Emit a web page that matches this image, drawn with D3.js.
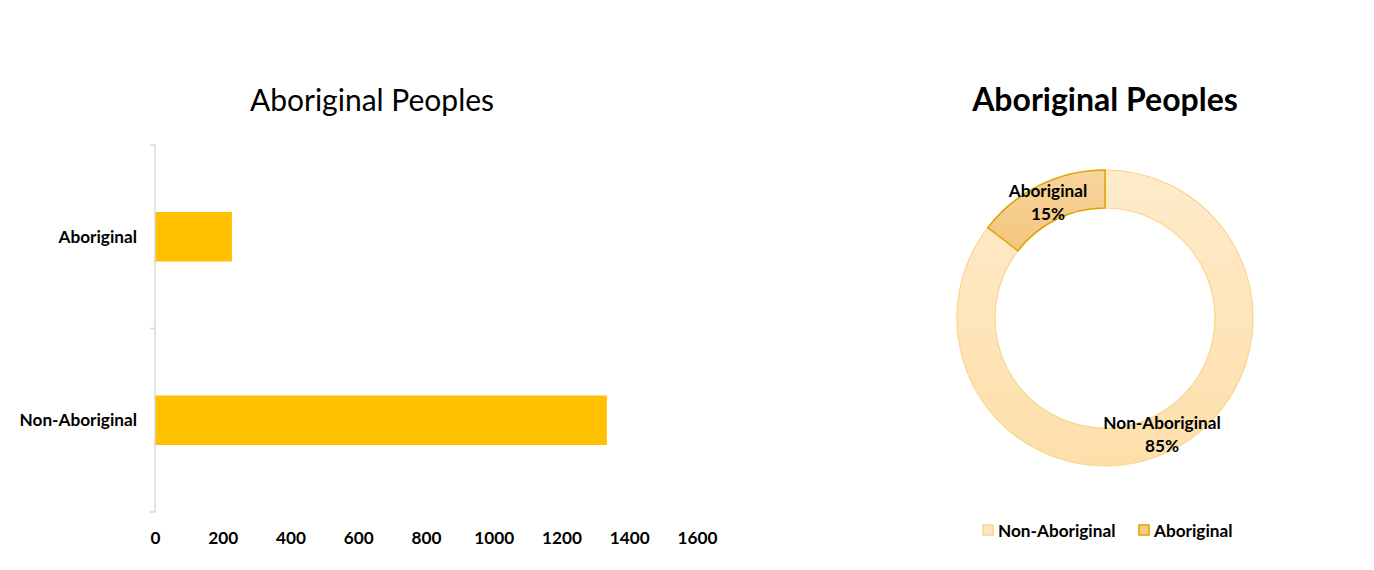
<!DOCTYPE html>
<html>
<head>
<meta charset="utf-8">
<script src="https://cdn.jsdelivr.net/npm/d3@7"></script>
<style>
  html, body { margin: 0; padding: 0; background: #fff; }
  text { font-family: Lato, "Open Sans", sans-serif; }
</style>
</head>
<body>
<svg id="chart" width="1374" height="570"></svg>
<script>
const categories = ["Aboriginal", "Non-Aboriginal"];
const values = [227, 1334];
const xTicks = [0, 200, 400, 600, 800, 1000, 1200, 1400, 1600];
const donutOrder = ["Non-Aboriginal", "Aboriginal"];
const donutValues = [1334, 227];
const chartTitle = "Aboriginal Peoples";

const svg = d3.select("#chart");
const LBL = 17.2;

// ---------- Bar chart ----------
const bx0 = 155, bx1 = 697, by0 = 145, by1 = 512;
const x = d3.scaleLinear().domain([0, 1600]).range([bx0, bx1]);
const y = d3.scaleBand().domain(categories).range([by0, by1]).paddingInner(0.73).paddingOuter(0.365);

svg.append("text").attr("x", 372).attr("y", 111).attr("text-anchor", "middle")
  .attr("font-size", 30).attr("fill", "#000").text(chartTitle);

svg.selectAll("rect.bar").data(categories).enter().append("rect")
  .attr("class", "bar")
  .attr("x", x(0))
  .attr("y", d => y(d))
  .attr("width", (d, i) => x(values[i]) - x(0))
  .attr("height", y.bandwidth())
  .attr("fill", "#FFC000");

// category axis
const yAxis = svg.append("g").attr("transform", `translate(${bx0},0)`);
yAxis.append("line").attr("x1", 0).attr("x2", 0).attr("y1", by0).attr("y2", by1)
  .attr("stroke", "#d9d9d9").attr("stroke-width", 1.5);
const boundaries = [by0, by0 + (by1 - by0) / 2, by1];
yAxis.selectAll("line.tk").data(boundaries).enter().append("line")
  .attr("class", "tk").attr("x1", -5).attr("x2", 0).attr("y1", d => d).attr("y2", d => d)
  .attr("stroke", "#d9d9d9").attr("stroke-width", 1.5);
yAxis.selectAll("text").data(categories).enter().append("text")
  .attr("x", -18).attr("y", d => y(d) + y.bandwidth() / 2 + 6)
  .attr("text-anchor", "end").attr("font-size", LBL).attr("font-weight", "bold")
  .attr("fill", "#000").text(d => d);

// value axis labels (no line)
const xAxis = d3.axisBottom(x).tickValues(xTicks).tickSize(0).tickPadding(0).tickFormat(d3.format("d"));
const gx = svg.append("g").attr("transform", `translate(0,${by1 + 19})`).call(xAxis);
gx.select(".domain").remove();
gx.selectAll("text").attr("font-size", LBL).attr("font-weight", "bold")
  .attr("fill", "#000").attr("font-family", "Lato, sans-serif").attr("dy", "0.75em");

// ---------- Donut ----------
const cx = 1105, cy = 318, rOut = 148, rIn = 110;
svg.append("text").attr("x", cx).attr("y", 111).attr("text-anchor", "middle")
  .attr("font-size", 32).attr("font-weight", "bold").attr("fill", "#000").text(chartTitle);

const defs = svg.append("defs");
const g1 = defs.append("linearGradient").attr("id", "gNon").attr("x1", 0).attr("y1", 0).attr("x2", 0).attr("y2", 1);
g1.append("stop").attr("offset", "0%").attr("stop-color", "#FFEBCB");
g1.append("stop").attr("offset", "100%").attr("stop-color", "#FDDFAA");
const g2 = defs.append("linearGradient").attr("id", "gAb").attr("x1", 0).attr("y1", 0).attr("x2", 0).attr("y2", 1);
g2.append("stop").attr("offset", "0%").attr("stop-color", "#F8D49C");
g2.append("stop").attr("offset", "100%").attr("stop-color", "#F4C67E");

const fills = ["url(#gNon)", "url(#gAb)"];
const strokes = ["#F9D58E", "#DDA200"];
const legendFills = ["#FDE4BD", "#F6CB88"];

const pie = d3.pie().sort(null).value(d => d)(donutValues);
const arc = d3.arc().innerRadius(rIn).outerRadius(rOut);
const dg = svg.append("g").attr("transform", `translate(${cx},${cy})`);
dg.selectAll("path").data(pie).enter().append("path")
  .attr("d", arc)
  .attr("fill", (d, i) => fills[i])
  .attr("stroke", (d, i) => strokes[i])
  .attr("stroke-width", (d, i) => i === 1 ? 1.5 : 1.2);

const total = d3.sum(donutValues);
const labelPos = [[57, 111], [-57, -121]];
dg.selectAll("g.lbl").data(pie).enter().append("g").attr("class", "lbl")
  .each(function(d, i) {
    const g = d3.select(this);
    g.append("text").attr("x", labelPos[i][0]).attr("y", labelPos[i][1])
      .attr("text-anchor", "middle").attr("font-size", LBL).attr("font-weight", "bold")
      .attr("fill", "#000").text(donutOrder[i]);
    g.append("text").attr("x", labelPos[i][0]).attr("y", labelPos[i][1] + 23)
      .attr("text-anchor", "middle").attr("font-size", LBL).attr("font-weight", "bold")
      .attr("fill", "#000").text(Math.round(d.value / total * 100) + "%");
  });

// legend
const legendX = [983, 1139];
const lg = svg.append("g");
donutOrder.forEach((name, i) => {
  lg.append("rect").attr("x", legendX[i]).attr("y", 525).attr("width", 10).attr("height", 10)
    .attr("fill", legendFills[i]).attr("stroke", strokes[i]).attr("stroke-width", 1.5);
  lg.append("text").attr("x", legendX[i] + 15).attr("y", 537)
    .attr("font-size", LBL).attr("font-weight", "bold").attr("fill", "#000").text(name);
});
</script>
</body>
</html>
